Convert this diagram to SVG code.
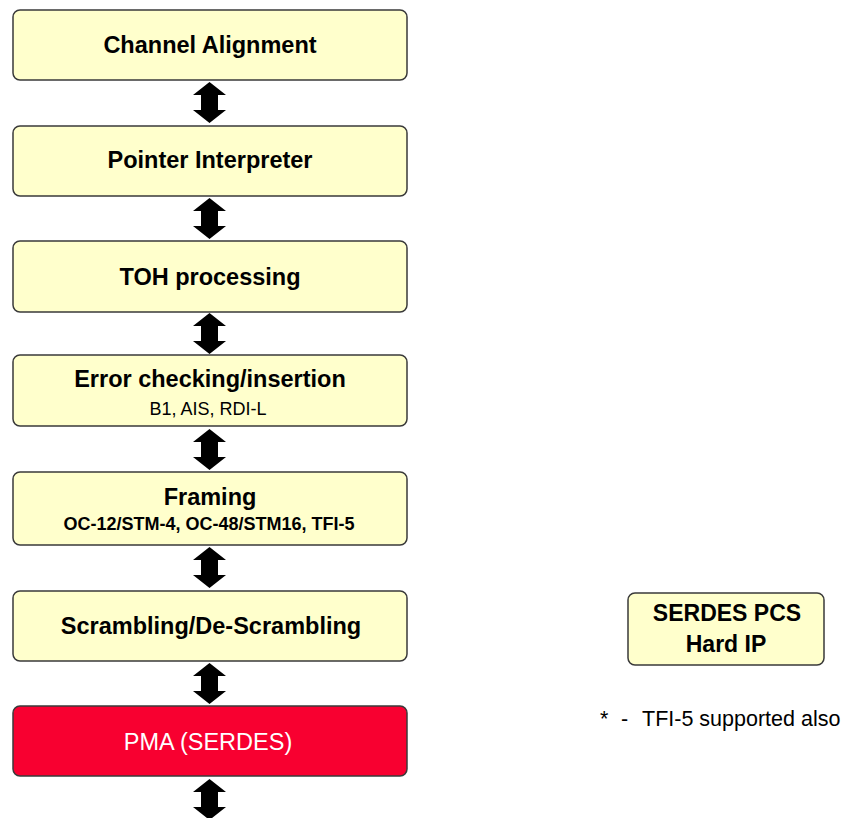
<svg xmlns="http://www.w3.org/2000/svg" width="843" height="818" viewBox="0 0 843 818">
  <style>
    .box { fill: #FFFFCC; stroke: #3a3a3a; stroke-width: 1.5; }
    .pma { fill: #F80030; stroke: #3a3a3a; stroke-width: 1.5; }
    .title { font-family: "Liberation Sans", Arial, sans-serif; font-weight: bold; font-size: 23.5px; fill: #000; text-anchor: middle; }
    .sub { font-family: "Liberation Sans", Arial, sans-serif; font-size: 18px; fill: #000; text-anchor: middle; }
    .subb { font-family: "Liberation Sans", Arial, sans-serif; font-weight: bold; font-size: 18px; fill: #000; text-anchor: middle; }
    .white { font-family: "Liberation Sans", Arial, sans-serif; font-size: 23.5px; fill: #fff; text-anchor: middle; }
    .note { font-family: "Liberation Sans", Arial, sans-serif; font-size: 21.5px; fill: #000; }
    .arrow { fill: #000; }
  </style>
  <defs>
    <!-- double-headed block arrow, 41px long, top tip at y=0 -->
    <polygon id="dbl" points="0,0 16.5,13 8.5,13 8.5,28 16.5,28 0,41 -16.5,28 -8.5,28 -8.5,13 -16.5,13"/>
  </defs>

  <g id="connectors" class="arrow">
    <use href="#dbl" x="209.5" y="82"/>
    <use href="#dbl" x="209.5" y="198"/>
    <use href="#dbl" x="209.5" y="313"/>
    <use href="#dbl" x="209.5" y="429"/>
    <use href="#dbl" x="209.5" y="547"/>
    <use href="#dbl" x="209.5" y="663"/>
    <use href="#dbl" x="209.5" y="779"/>
  </g>

  <g id="channel-alignment">
    <rect class="box" x="13" y="10" width="394" height="70" rx="7"/>
    <text class="title" x="210" y="53">Channel Alignment</text>
  </g>

  <g id="pointer-interpreter">
    <rect class="box" x="13" y="126" width="394" height="70" rx="7"/>
    <text class="title" x="210" y="168">Pointer Interpreter</text>
  </g>

  <g id="toh-processing">
    <rect class="box" x="13" y="241" width="394" height="71" rx="7"/>
    <text class="title" x="210" y="285">TOH processing</text>
  </g>

  <g id="error-checking">
    <rect class="box" x="13" y="355" width="394" height="71" rx="7"/>
    <text class="title" x="210" y="387">Error checking/insertion</text>
    <text class="sub" x="208" y="415">B1, AIS, RDI-L</text>
  </g>

  <g id="framing">
    <rect class="box" x="13" y="472" width="394" height="73" rx="7"/>
    <text class="title" x="210" y="505">Framing</text>
    <text class="subb" x="209" y="530">OC-12/STM-4, OC-48/STM16, TFI-5</text>
  </g>

  <g id="scrambling">
    <rect class="box" x="13" y="591" width="394" height="70" rx="7"/>
    <text class="title" x="211" y="634">Scrambling/De-Scrambling</text>
  </g>

  <g id="pma-serdes">
    <rect class="pma" x="13" y="706" width="394" height="70" rx="7"/>
    <text class="white" x="208" y="750">PMA (SERDES)</text>
  </g>

  <g id="serdes-pcs">
    <rect class="box" x="628" y="593" width="196" height="72" rx="7"/>
    <text class="title" x="727" y="621" style="font-size:23px">SERDES PCS</text>
    <text class="title" x="726" y="652" style="font-size:23px">Hard IP</text>
  </g>

  <g id="footnote">
    <text class="note" y="726"><tspan x="600">*</tspan><tspan x="621">-</tspan><tspan x="642">TFI-5 supported also</tspan></text>
  </g>
</svg>
